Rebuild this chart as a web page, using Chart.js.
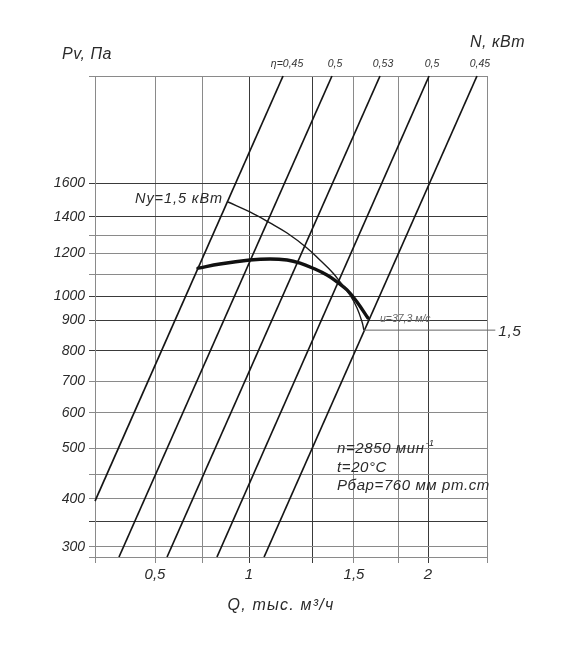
<!DOCTYPE html>
<html>
<head>
<meta charset="utf-8">
<script src="https://cdn.jsdelivr.net/npm/chart.js@4.4.1/dist/chart.umd.min.js"></script>
<style>
html,body{margin:0;padding:0;background:#fff;overflow:hidden;}
canvas{display:block;}
</style>
</head>
<body>
<canvas id="chart" width="575" height="647"></canvas>
<script>
// ---------------- data ----------------
// Q, thousand m3/h (x axis grid values and labels)
const qTicks = [0.3, 0.5, 0.7, 1, 1.25, 1.5, 1.75, 2, 2.5];
const qTickLabels = ['', '0,5', '', '1', '', '1,5', '', '2', ''];
// Pv, Pa (y axis grid values and labels)
const pTicks = [280, 300, 350, 400, 450, 500, 600, 700, 800, 900, 1000, 1100, 1200, 1300, 1400, 1600, 2500];
const pTickLabels = ['', '300', '', '400', '', '500', '600', '700', '800', '900', '1000', '', '1200', '', '1400', '1600', ''];

// efficiency lines
const etaLabels = ['η=0,45', '0,5', '0,53', '0,5', '0,45'];
const etaBottomQ = [0.3, 0.368, 0.545, 0.784, 1.054];
const etaBottomP = [395, 280, 280, 280, 280];
const etaTopQ = [1.126, 1.36, 1.643, 2.008, 2.407];
const etaTopP = [2500, 2500, 2500, 2500, 2500];

// fan curve Pv(Q)
const pvQ = [0.68, 0.802, 1.003, 1.076, 1.142, 1.195, 1.25, 1.33, 1.391, 1.454, 1.516, 1.575];
const pvP = [1130, 1149, 1167, 1172, 1167, 1153, 1130, 1100, 1066, 1028, 974, 908];

// power curve Ny = 1,5 kW
const nQ = [0.853, 1.003, 1.076, 1.142, 1.224, 1.289, 1.366, 1.41, 1.473, 1.516, 1.543, 1.553];
const nP = [1485, 1428, 1368, 1315, 1229, 1167, 1109, 1066, 1005, 949, 893, 866];

// N = 1,5 kW marker line
const n15Q = [1.553, 2.58];
const n15P = [866, 866];

// ---------------- axis geometry ----------------
const axisGeom = {
  x: { knots: qTicks, pos: [0, 0.1531, 0.2730, 0.3929, 0.5561, 0.6607, 0.7730, 0.8495, 1] },
  y: { knots: pTicks, pos: [0, 0.0208, 0.0728, 0.1206, 0.1705, 0.2266, 0.2994, 0.3659, 0.4283, 0.4927, 0.5426, 0.5863, 0.6320, 0.6674, 0.7069, 0.7775, 1] }
};
const darkQ = [1, 1.25, 2];
const darkP = [350, 800, 900, 1000, 1400, 1600];

class PiecewiseLogScale extends Chart.Scale {
  determineDataLimits() {
    const k = axisGeom[this.id].knots;
    this.min = k[0];
    this.max = k[k.length - 1];
  }
  buildTicks() {
    return axisGeom[this.id].knots.map(v => ({ value: v }));
  }
  getLabelForValue(v) { return String(v); }
  getPixelForValue(value) {
    if (value === null || value === undefined || !(value > 0)) return NaN;
    const g = axisGeom[this.id], k = g.knots, p = g.pos;
    let i = 0;
    while (i < k.length - 2 && value > k[i + 1]) i++;
    const a = Math.log(k[i]), b = Math.log(k[i + 1]);
    const d = p[i] + (Math.log(value) - a) / (b - a) * (p[i + 1] - p[i]);
    return this.getPixelForDecimal(d);
  }
  getValueForPixel(pixel) {
    const g = axisGeom[this.id], k = g.knots, p = g.pos;
    const d = this.getDecimalForPixel(pixel);
    let i = 0;
    while (i < p.length - 2 && d > p[i + 1]) i++;
    const a = Math.log(k[i]), b = Math.log(k[i + 1]);
    return Math.exp(a + (d - p[i]) / (p[i + 1] - p[i]) * (b - a));
  }
}
PiecewiseLogScale.id = 'piecewiseLog';
PiecewiseLogScale.defaults = {};
Chart.register(PiecewiseLogScale);

const FONT = '"Liberation Sans", Arial, Helvetica, sans-serif';
const TXT = '#2a2a2a';

function pts(xs, ys) { return xs.map((x, i) => ({ x: x, y: ys[i] })); }

const datasets = [];
datasets.push({ data: pts(n15Q, n15P), borderColor: '#666', borderWidth: 1, clip: false });
etaTopQ.forEach((q, i) => {
  datasets.push({ data: [{ x: etaBottomQ[i], y: etaBottomP[i] }, { x: q, y: etaTopP[i] }], borderColor: '#151515', borderWidth: 1.7 });
});
datasets.push({ data: pts(nQ, nP), borderColor: '#1a1a1a', borderWidth: 1.4, tension: 0.4 });
datasets.push({ data: pts(pvQ, pvP), borderColor: '#111', borderWidth: 3.4, tension: 0.4, borderCapStyle: 'round' });

function txt(ctx, s, x, y, size, opt) {
  opt = opt || {};
  ctx.font = 'italic ' + size + 'px ' + FONT;
  ctx.fillStyle = opt.color || TXT;
  ctx.textAlign = opt.align || 'left';
  ctx.textBaseline = opt.baseline || 'alphabetic';
  try { ctx.letterSpacing = (opt.ls || 0) + 'px'; } catch (e) {}
  ctx.fillText(s, x, y);
  const w = ctx.measureText(s).width;
  try { ctx.letterSpacing = '0px'; } catch (e) {}
  return w;
}

const textPlugin = {
  id: 'texts',
  afterDatasetsDraw(chart) {
    const { ctx, scales } = chart;
    const x = scales.x, y = scales.y;
    ctx.save();
    // axis titles
    txt(ctx, 'Pv, Па', 62, 59, 16, { ls: 0.5 });
    txt(ctx, 'N, кВт', 470, 47, 16, { ls: 0.5 });
    txt(ctx, 'Q, тыс. м³/ч', 281, 610, 16, { align: 'center', ls: 1.2 });
    // efficiency labels
    etaLabels.forEach((s, i) => {
      const px = x.getPixelForValue(etaTopQ[i]);
      txt(ctx, s, px + (i === 0 ? 4 : 3), 67, 10.5, { align: 'center', color: '#333' });
    });
    // power curve label
    const nx = x.getPixelForValue(nQ[0]), ny = y.getPixelForValue(nP[0]);
    txt(ctx, 'Ny=1,5 кВт', nx - 5, ny + 1, 14.5, { align: 'right', ls: 0.9 });
    // tip speed label
    const ux = x.getPixelForValue(pvQ[pvQ.length - 1]), uy = y.getPixelForValue(pvP[pvP.length - 1]);
    txt(ctx, 'u=37,3 м/с', ux + 12, uy + 4, 10.5, { color: '#666' });
    // N=1,5 marker label
    const mx = x.getPixelForValue(n15Q[1]), my = y.getPixelForValue(n15P[1]);
    txt(ctx, '1,5', mx + 3, my + 6, 15.5, { ls: 0.5 });
    // conditions
    const w = txt(ctx, 'n=2850 мин', 337, 453, 15, { ls: 0.6 });
    txt(ctx, '-1', 337 + w + 1, 446, 9.5);
    txt(ctx, 't=20°C', 337, 472, 15, { ls: 0.6 });
    txt(ctx, 'Pбар=760 мм рт.ст', 337, 490, 15, { ls: 0.6 });
    ctx.restore();
  }
};

new Chart(document.getElementById('chart'), {
  type: 'line',
  data: { datasets: datasets },
  options: {
    responsive: false,
    animation: false,
    events: [],
    layout: { padding: { left: 0, top: 76, right: 88, bottom: 0 } },
    elements: { point: { radius: 0 }, line: { fill: false, tension: 0 } },
    plugins: { legend: { display: false }, tooltip: { enabled: false }, title: { display: false } },
    scales: {
      x: {
        type: 'piecewiseLog',
        position: 'bottom',
        afterFit(s) { s.height = 90; s.paddingLeft = 0; s.paddingRight = 0; },
        grid: {
          color: c => (c.tick && darkQ.includes(c.tick.value)) ? '#3a3a3a' : '#8a8a8a',
          lineWidth: 1, drawTicks: true, tickLength: 6
        },
        border: { display: true, color: '#8a8a8a', width: 1 },
        ticks: {
          autoSkip: false, maxRotation: 0, padding: 3, color: TXT,
          font: { family: FONT, size: 15, style: 'italic' },
          callback: (v, i) => qTickLabels[i]
        }
      },
      y: {
        type: 'piecewiseLog',
        position: 'left',
        afterFit(s) { s.width = 95; s.paddingTop = 0; s.paddingBottom = 0; },
        grid: {
          color: c => (c.tick && darkP.includes(c.tick.value)) ? '#3a3a3a' : '#8a8a8a',
          lineWidth: 1, drawTicks: true, tickLength: 6
        },
        border: { display: true, color: '#8a8a8a', width: 1 },
        ticks: {
          autoSkip: false, padding: 4, color: TXT,
          font: { family: FONT, size: 14, style: 'italic' },
          callback: (v, i) => pTickLabels[i]
        }
      }
    }
  },
  plugins: [textPlugin]
});
</script>
</body>
</html>
